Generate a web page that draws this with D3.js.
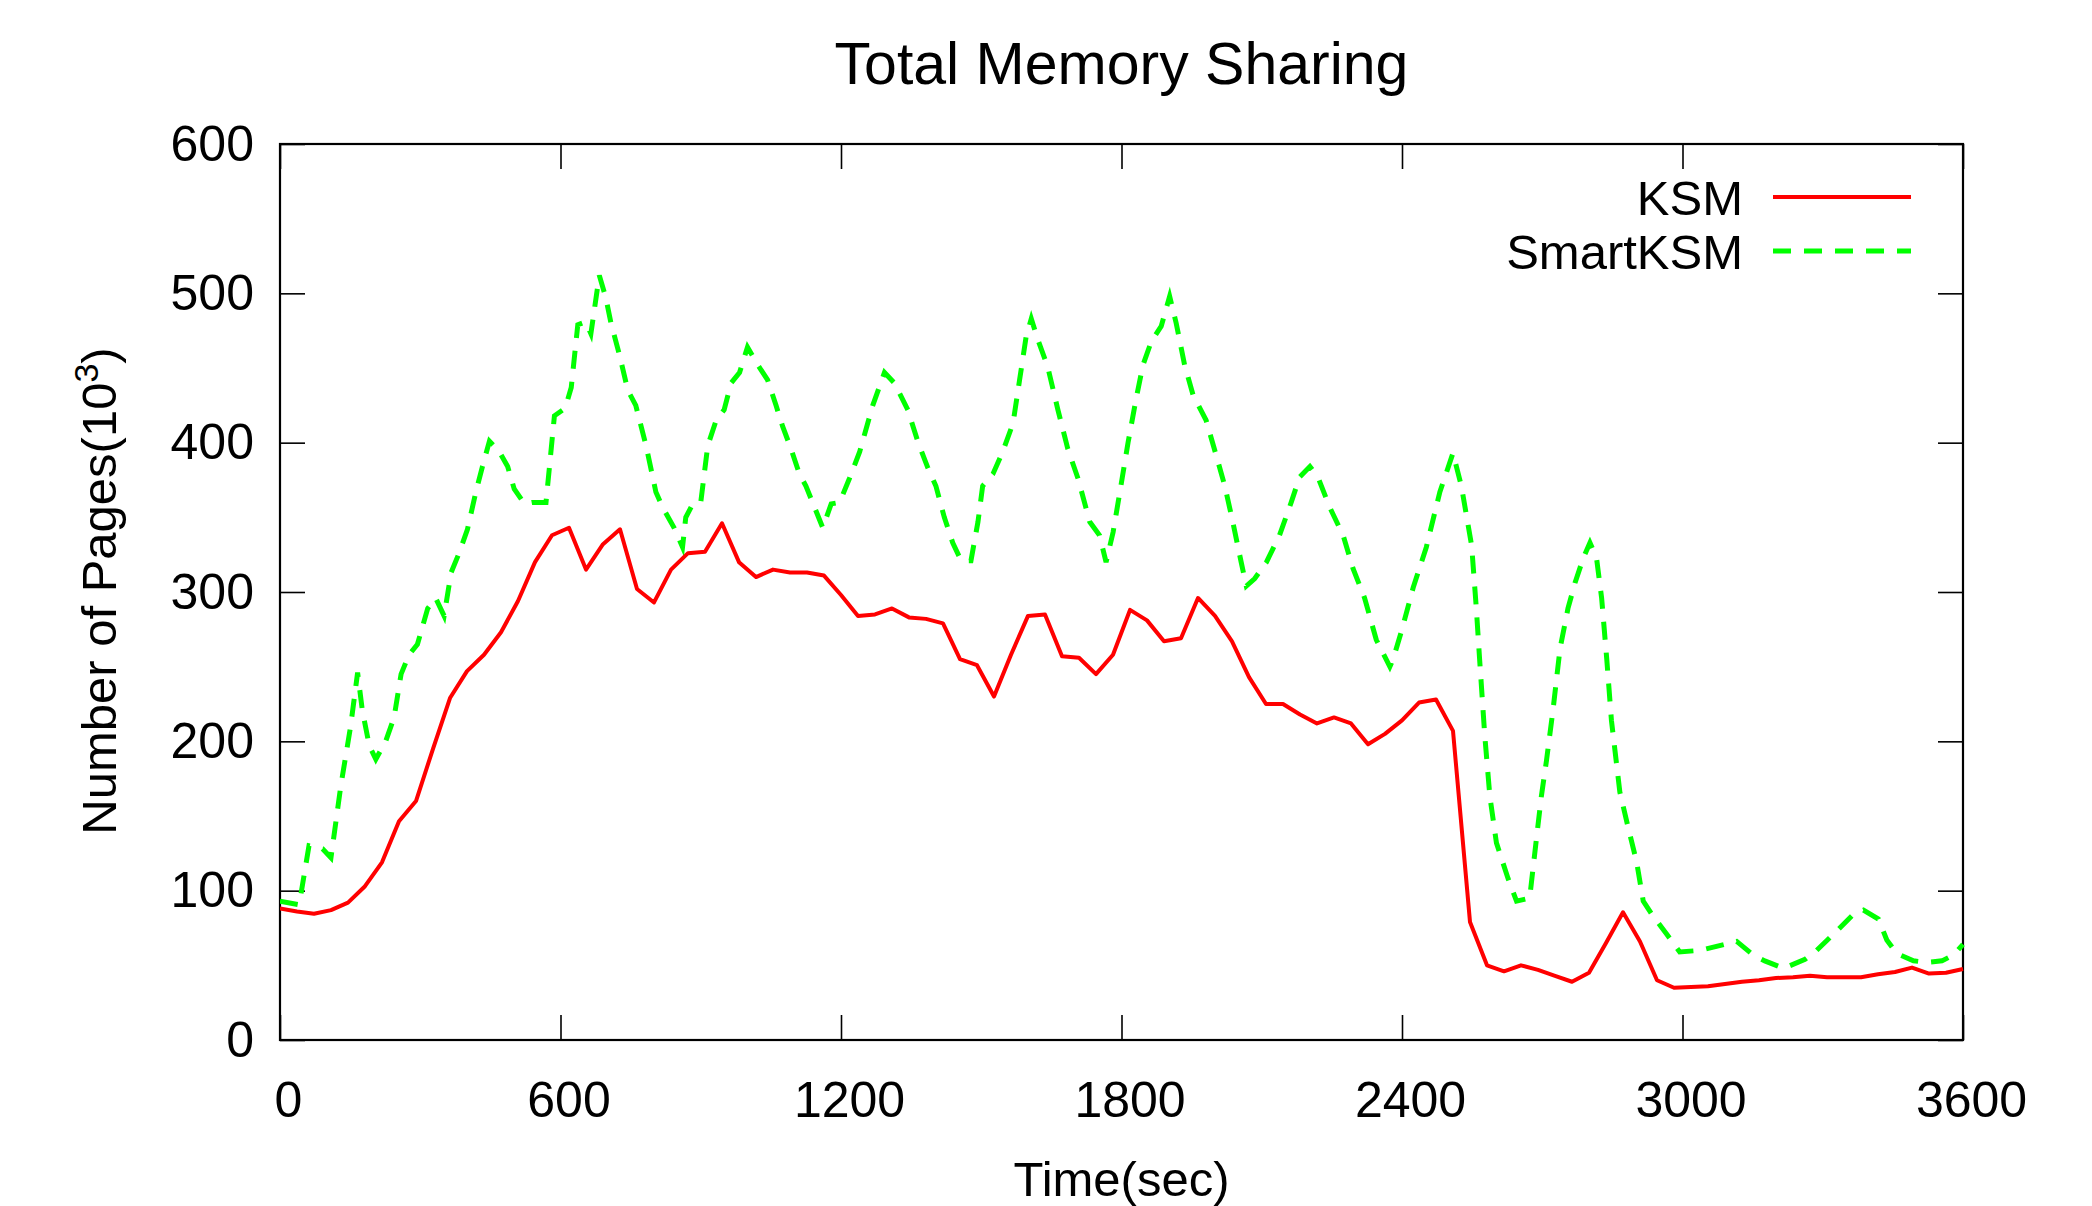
<!DOCTYPE html>
<html>
<head>
<meta charset="utf-8">
<script src="https://cdn.jsdelivr.net/npm/d3@7"></script>
<style>
    body { margin: 0; background: #fff; }
    text { font-family: "Liberation Sans", Arial, sans-serif; fill: #000; }
</style>
</head>
<body>
<script>
// KSM: 100 samples spread evenly over the hour
var ksmValues = [
    88, 86, 84.5, 87, 92, 103, 119, 146.5, 160, 195,
    229, 247, 258, 273, 294, 320, 338, 343, 315, 332,
    342, 302, 293, 315, 326, 327, 346, 320, 310, 315,
    313, 313, 311, 298, 284, 285, 289, 283, 282, 279,
    255, 251, 230, 258, 284, 285, 257, 256, 245, 258,
    288, 281, 267, 269, 296, 284, 267, 243, 225, 225,
    218, 212, 216, 212, 198, 205, 214, 226, 228, 207,
    79, 50, 46, 50, 47, 43, 39, 45, 65, 85.5,
    66, 40, 35, 35.5, 36, 37.5, 39, 40, 41.5, 42,
    43, 42, 42, 42, 44, 45.5, 48.5, 44.5, 45, 47.5
];

// SmartKSM: vertices (time in sec)
var smartTimes = [
    0, 41, 62, 91, 109, 130, 151, 166, 176, 191, 205, 226, 244, 259, 276, 294, 316, 333, 351, 366,
    383, 401, 419, 433, 448, 469, 487, 501, 523, 540, 569, 587, 610, 623, 637, 654, 665, 683, 697, 708,
    726, 744, 761, 783, 804, 818, 843, 861, 868, 883, 900, 915, 933, 950, 965, 983, 1000, 1022, 1043, 1061,
    1075, 1093, 1111, 1125, 1143, 1161, 1179, 1197, 1218, 1240, 1268, 1293, 1314, 1343, 1364, 1386, 1403, 1421, 1439, 1457,
    1478, 1493, 1503, 1525, 1546, 1568, 1582, 1596, 1607, 1621, 1642, 1664, 1685, 1707, 1732, 1753, 1767, 1782, 1796, 1814,
    1831, 1846, 1864, 1885, 1903, 1917, 1935, 1953, 1981, 2003, 2021, 2038, 2056, 2067, 2085, 2110, 2138, 2163, 2181, 2203,
    2220, 2245, 2274, 2295, 2320, 2345, 2374, 2381, 2400, 2424, 2452, 2481, 2509, 2527, 2549, 2559, 2566, 2577, 2588, 2602,
    2627, 2645, 2673, 2688, 2698, 2709, 2723, 2738, 2755, 2770, 2788, 2802, 2816, 2827, 2838, 2848, 2866, 2884, 2902, 2916,
    2937, 2966, 2994, 3037, 3116, 3151, 3176, 3216, 3262, 3287, 3330, 3365, 3387, 3419, 3437, 3458, 3494, 3522, 3555, 3580,
    3600
];
var smartValues = [
    93, 90.6, 130, 128, 122, 170, 210, 246, 221, 197, 188, 200, 216, 245, 258, 265, 289, 296, 284, 313,
    326, 342, 367, 384, 401, 394, 384, 369, 359, 360, 360, 418, 423, 437, 479, 481, 473, 512, 497, 480,
    459, 435, 425, 398, 367, 357, 343, 330, 350, 359, 360, 398, 415, 422, 440, 447, 464, 452, 442, 425,
    411, 396, 379, 371, 357, 343, 359, 360, 376, 394, 425, 447, 440, 422, 401, 383, 371, 350, 333, 321,
    321, 347, 371, 379, 394, 413, 442, 471, 483, 469, 451, 422, 396, 376, 347, 338, 320, 340, 366, 400,
    429, 452, 468, 478, 498, 480, 452, 432, 415, 391, 371, 347, 320, 304, 309, 320, 338, 360, 377, 384,
    377, 357, 338, 316, 296, 268, 250, 255, 275, 303, 330, 367, 393, 371, 331, 289, 255, 204, 163, 132,
    108, 93, 95, 136, 163, 187, 221, 262, 289, 306, 323, 333, 323, 296, 255, 214, 166, 142, 119, 93,
    83, 71, 59, 60, 66, 57, 53, 48, 54, 60, 73, 84, 87, 81, 67, 58, 53, 52, 53, 57,
    64
];

var xTicks = [0, 600, 1200, 1800, 2400, 3000, 3600];
var yTicks = [0, 100, 200, 300, 400, 500, 600];
var seriesNames = ["KSM", "SmartKSM"];

var width = 2092, height = 1206;
var margin = { left: 280, right: 129, top: 144, bottom: 166 };
var plotW = width - margin.left - margin.right;
var plotH = height - margin.top - margin.bottom;

var svg = d3.select("body")
    .append("svg")
    .attr("width", width)
    .attr("height", height);

var x = d3.scaleLinear().domain([0, 3600]).range([margin.left, margin.left + plotW]);
var y = d3.scaleLinear().domain([0, 600]).range([margin.top + plotH, margin.top]);

var ksmTimes = d3.range(ksmValues.length).map(function(i) { return i * 3600 / (ksmValues.length - 1); });

// ---------------- axes (gnuplot style: inward ticks, mirrored) ----------------
var tickLen = 25;

var gx = svg.append("g")
    .attr("transform", "translate(0," + (margin.top + plotH) + ")")
    .call(d3.axisBottom(x).tickValues(xTicks).tickFormat(d3.format("d"))
        .tickSize(-tickLen).tickSizeOuter(0).tickPadding(41));
gx.selectAll("text").attr("dx", 8);

var gy = svg.append("g")
    .attr("transform", "translate(" + margin.left + ",0)")
    .call(d3.axisLeft(y).tickValues(yTicks).tickFormat(d3.format("d"))
        .tickSize(-tickLen).tickSizeOuter(0).tickPadding(26));

svg.append("g")
    .attr("transform", "translate(0," + margin.top + ")")
    .call(d3.axisTop(x).tickValues(xTicks).tickSize(-tickLen).tickSizeOuter(0).tickFormat(""));

svg.append("g")
    .attr("transform", "translate(" + (margin.left + plotW) + ",0)")
    .call(d3.axisRight(y).tickValues(yTicks).tickSize(-tickLen).tickSizeOuter(0).tickFormat(""));

svg.selectAll(".tick line").attr("stroke", "#000").attr("stroke-width", 1.6);
svg.selectAll(".domain").remove();
svg.selectAll(".tick text")
    .style("font-family", "'Liberation Sans', Arial, sans-serif")
    .style("font-size", "50px")
    .attr("fill", "#000");

// frame
svg.append("rect")
    .attr("x", margin.left)
    .attr("y", margin.top)
    .attr("width", plotW)
    .attr("height", plotH)
    .attr("fill", "none")
    .attr("stroke", "#000")
    .attr("stroke-width", 2.2);

// ---------------- lines ----------------
svg.append("clipPath").attr("id", "plotClip")
    .append("rect")
    .attr("x", margin.left).attr("y", margin.top)
    .attr("width", plotW + 2).attr("height", plotH);

var lineFunction = d3.line()
    .x(function(d) { return x(d[0]); })
    .y(function(d) { return y(d[1]); });

var smartData = smartTimes.map(function(t, i) { return [t, smartValues[i]]; });
var ksmData = ksmTimes.map(function(t, i) { return [t, ksmValues[i]]; });

svg.append("path")
    .attr("clip-path", "url(#plotClip)")
    .attr("d", lineFunction(smartData))
    .attr("fill", "none")
    .attr("stroke", "#00ff00")
    .attr("stroke-width", 5)
    .attr("stroke-dasharray", "18,13");

svg.append("path")
    .attr("clip-path", "url(#plotClip)")
    .attr("d", lineFunction(ksmData))
    .attr("fill", "none")
    .attr("stroke", "#ff0000")
    .attr("stroke-width", 4)
    .attr("stroke-linejoin", "round");

// ---------------- legend ----------------
var legendStyles = [
    { color: "#ff0000", width: 4, dash: null, y: 197 },
    { color: "#00ff00", width: 5, dash: "18,13", y: 251 }
];

seriesNames.forEach(function(name, i) {
    var s = legendStyles[i];
    svg.append("text")
        .attr("x", 1743)
        .attr("y", s.y + 18)
        .attr("text-anchor", "end")
        .style("font-size", "49px")
        .text(name);
    svg.append("line")
        .attr("x1", 1773).attr("x2", 1911)
        .attr("y1", s.y).attr("y2", s.y)
        .attr("stroke", s.color)
        .attr("stroke-width", s.width)
        .attr("stroke-dasharray", s.dash);
});

// ---------------- titles ----------------
svg.append("text")
    .attr("x", margin.left + plotW / 2)
    .attr("y", 84)
    .attr("text-anchor", "middle")
    .style("font-size", "59px")
    .text("Total Memory Sharing");

svg.append("text")
    .attr("x", margin.left + plotW / 2)
    .attr("y", 1196)
    .attr("text-anchor", "middle")
    .style("font-size", "49px")
    .text("Time(sec)");

var yLabel = svg.append("text")
    .attr("transform", "translate(116," + 591 + ") rotate(-90)")
    .attr("text-anchor", "middle")
    .style("font-size", "49px");
yLabel.append("tspan").text("Number of Pages(10");
yLabel.append("tspan").attr("dy", -18).style("font-size", "34px").text("3");
yLabel.append("tspan").attr("dy", 18).text(")");
</script>
</body>
</html>
